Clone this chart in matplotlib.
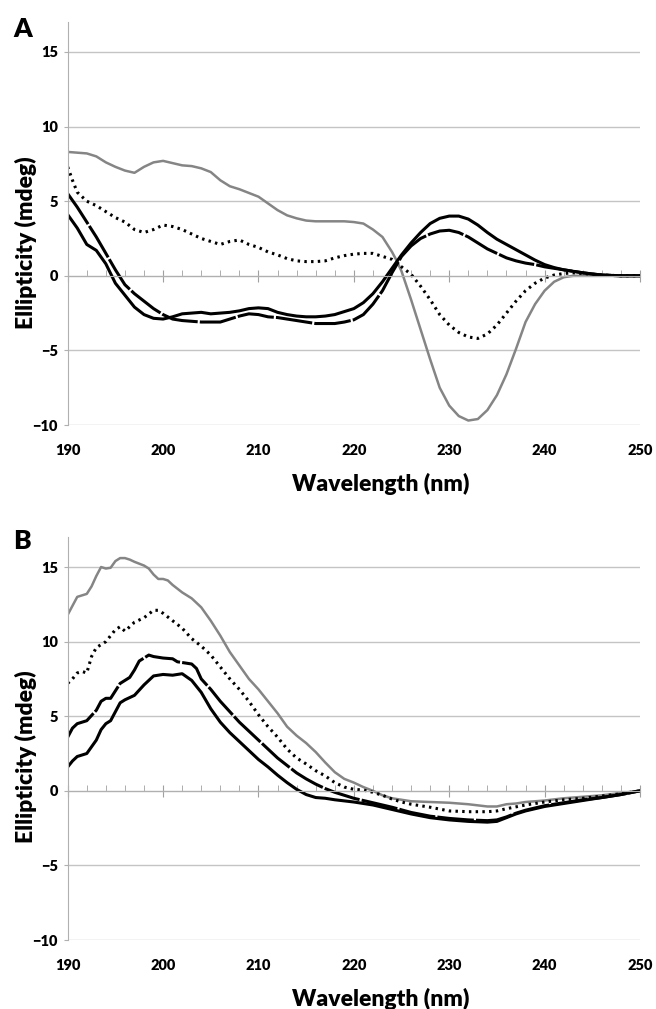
import numpy as np
import matplotlib.pyplot as plt
from matplotlib.ticker import MultipleLocator

plt.rcParams['font.family'] = ['Lato', 'DejaVu Sans']

# ---- Panel A ----
a_gray_x = [190, 191, 192, 193, 194, 195, 196, 197, 198, 199, 200, 201, 202, 203, 204, 205, 206, 207, 208, 209,
            210, 211, 212, 213, 214, 215, 216, 217, 218, 219, 220, 221, 222, 223, 224, 224.5, 225, 226, 227, 228,
            229, 230, 231, 232, 233, 234, 235, 236, 237, 238, 239, 240, 241, 242, 243, 244, 246, 248, 250]
a_gray_y = [8.3, 8.25, 8.2, 8.0, 7.6, 7.3, 7.05, 6.9, 7.3, 7.6, 7.7, 7.55, 7.4, 7.35, 7.2, 6.95, 6.4, 6.0, 5.8, 5.55,
            5.3, 4.85, 4.4, 4.05, 3.85, 3.7, 3.65, 3.65, 3.65, 3.65, 3.6, 3.5, 3.1, 2.6, 1.6, 1.0, 0.3, -1.6, -3.6, -5.6,
            -7.5, -8.7, -9.4, -9.7, -9.6, -9.0, -8.0, -6.6, -4.9, -3.1, -1.9, -1.0, -0.4, -0.1, 0.0, 0.0, 0.0, 0.0, 0.0]

a_dot_x = [190, 190.5, 191, 192, 193, 194, 195, 196, 197, 198, 199, 200, 201, 202, 203, 204, 205, 206, 207, 208,
           209, 210, 211, 212, 213, 214, 215, 216, 217, 218, 219, 220, 221, 222, 223, 224, 225, 226, 227, 228,
           229, 230, 231, 232, 233, 234, 235, 236, 237, 238, 239, 240, 241, 242, 243, 244, 246, 248, 250]
a_dot_y = [7.3, 6.4, 5.6, 5.0, 4.7, 4.3, 3.9, 3.6, 3.1, 2.9, 3.1, 3.4, 3.3, 3.1, 2.8, 2.5, 2.3, 2.1, 2.3, 2.4,
           2.1, 1.9, 1.6, 1.4, 1.15, 1.0, 0.95, 0.95, 1.0, 1.2, 1.35, 1.45, 1.5, 1.5, 1.3, 1.1, 0.6, 0.1, -0.7, -1.6,
           -2.6, -3.3, -3.8, -4.1, -4.2, -3.9, -3.3, -2.5, -1.7, -1.0, -0.5, -0.15, 0.05, 0.15, 0.2, 0.15, 0.05, 0.0, 0.0]

a_blk_x = [190, 191, 192, 193, 194, 195, 196, 197, 198, 199, 200, 201, 202, 203, 204, 205, 206, 207, 208, 209,
           210, 211, 212, 213, 214, 215, 216, 217, 218, 219, 220, 221, 222, 223, 224, 225, 226, 227, 228, 229,
           230, 231, 232, 233, 234, 235, 236, 237, 238, 239, 240, 241, 242, 243, 244, 245, 246, 248, 250]
a_solid_y = [4.1, 3.2, 2.1, 1.7, 0.8, -0.5, -1.3, -2.1, -2.6, -2.85, -2.9, -2.75, -2.55, -2.5, -2.45, -2.55, -2.5, -2.45, -2.35, -2.2,
             -2.15, -2.2, -2.45, -2.6, -2.7, -2.75, -2.75, -2.7, -2.6, -2.4, -2.2, -1.8, -1.2, -0.4, 0.5, 1.4, 2.2, 2.9, 3.5, 3.85,
             4.0, 4.0, 3.8, 3.4, 2.9, 2.45, 2.1, 1.75, 1.4, 1.05, 0.75, 0.55, 0.4, 0.3, 0.2, 0.12, 0.05, 0.0, 0.0]
a_dash_y = [5.5, 4.6, 3.6, 2.6, 1.5, 0.4, -0.6, -1.2, -1.7, -2.2, -2.6, -2.9, -3.0, -3.05, -3.1, -3.1, -3.1, -2.9, -2.7, -2.55,
            -2.6, -2.75, -2.8, -2.9, -3.0, -3.1, -3.2, -3.2, -3.2, -3.1, -2.95, -2.6, -1.9, -1.0, 0.2, 1.3, 2.0, 2.5, 2.8, 3.0,
            3.05, 2.9, 2.6, 2.2, 1.8, 1.5, 1.2, 1.0, 0.85, 0.75, 0.6, 0.5, 0.4, 0.3, 0.2, 0.12, 0.05, 0.0, 0.0]

# ---- Panel B ----
b_gray_x = [190, 190.5, 191, 192, 192.5, 193, 193.5, 194, 194.5, 195, 195.5, 196, 196.5, 197, 198, 198.5, 199, 199.5,
            200, 200.5, 201, 202, 203, 204, 205, 206, 207, 208, 209, 210, 211, 212, 213, 214, 215, 216, 217, 218,
            219, 220, 221, 222, 223, 224, 225, 226, 228, 230, 232, 234, 235, 236, 237, 238, 240, 242, 244, 246, 248, 250]
b_gray_y = [11.8, 12.4, 13.0, 13.2, 13.7, 14.4, 15.0, 14.9, 14.95, 15.4, 15.6, 15.6, 15.5, 15.35, 15.1, 14.9, 14.5, 14.2,
            14.2, 14.1, 13.8, 13.3, 12.9, 12.3, 11.4, 10.4, 9.3, 8.4, 7.5, 6.8, 6.0, 5.2, 4.3, 3.7, 3.2, 2.6, 1.9, 1.25,
            0.8, 0.55, 0.25, 0.0, -0.3, -0.5, -0.6, -0.7, -0.75, -0.8, -0.9, -1.05, -1.05, -0.9, -0.85, -0.75, -0.65, -0.5, -0.4, -0.3, -0.15, 0.0]

b_dot_x = [190, 190.5, 191, 191.5, 192, 192.5, 193, 194, 195, 195.5, 196, 197, 198, 199, 199.5, 200, 201, 202, 203,
           204, 205, 206, 207, 208, 209, 210, 211, 212, 213, 214, 215, 216, 217, 218, 219, 220, 221, 222, 223,
           224, 225, 226, 228, 230, 232, 234, 235, 236, 238, 240, 242, 244, 246, 248, 250]
b_dot_y = [7.2, 7.5, 7.9, 8.0, 7.9, 9.0, 9.6, 10.0, 10.8, 11.0, 10.7, 11.3, 11.6, 12.1, 12.1, 11.9, 11.4, 10.9, 10.2,
           9.7, 9.1, 8.3, 7.5, 6.8, 6.0, 5.1, 4.3, 3.6, 2.8, 2.2, 1.8, 1.35, 1.0, 0.55, 0.25, 0.1, 0.05, -0.1, -0.3,
           -0.55, -0.75, -0.9, -1.1, -1.35, -1.4, -1.4, -1.35, -1.2, -0.95, -0.75, -0.6, -0.5, -0.35, -0.2, 0.0]

b_dash_x = [190, 190.5, 191, 192, 193, 193.5, 194, 194.5, 195, 195.5, 196, 196.5, 197, 197.5, 198, 198.5, 199, 200,
            201, 201.5, 202, 203, 203.5, 204, 205, 206, 207, 208, 209, 210, 211, 212, 213, 214, 215, 216, 217, 218,
            219, 220, 222, 224, 226, 228, 230, 232, 234, 235, 236, 237, 238, 240, 242, 244, 246, 248, 250]
b_dash_y = [3.6, 4.2, 4.5, 4.7, 5.4, 6.0, 6.2, 6.2, 6.7, 7.2, 7.4, 7.6, 8.1, 8.7, 8.9, 9.1, 9.0, 8.9,
            8.85, 8.65, 8.6, 8.5, 8.2, 7.5, 6.8, 6.0, 5.3, 4.6, 4.0, 3.4, 2.8, 2.2, 1.7, 1.2, 0.8, 0.45, 0.15, -0.1,
            -0.3, -0.5, -0.8, -1.1, -1.45, -1.7, -1.85, -1.95, -2.0, -1.95, -1.75, -1.5, -1.3, -1.0, -0.8, -0.6, -0.45, -0.25, 0.0]

b_solid_x = [190, 190.5, 191, 192, 193, 193.5, 194, 194.5, 195, 195.5, 196, 197, 198, 198.5, 199, 200, 201, 202, 203,
             204, 205, 206, 207, 208, 209, 210, 211, 212, 213, 214, 215, 216, 217, 218, 220, 222, 224, 226, 228,
             230, 232, 234, 235, 236, 237, 238, 240, 242, 244, 246, 248, 250]
b_solid_y = [1.6, 2.0, 2.3, 2.5, 3.4, 4.1, 4.5, 4.7, 5.3, 5.9, 6.1, 6.4, 7.1, 7.4, 7.7, 7.8, 7.75, 7.85, 7.4,
             6.6, 5.5, 4.6, 3.9, 3.3, 2.7, 2.1, 1.6, 1.05, 0.55, 0.1, -0.25, -0.45, -0.5, -0.6, -0.75, -0.95, -1.25, -1.55, -1.8,
             -1.95, -2.05, -2.1, -2.05, -1.8, -1.55, -1.35, -1.05, -0.85, -0.65, -0.45, -0.25, 0.0]

x_ticks = [190, 200, 210, 220, 230, 240, 250]
y_ticks = [-10, -5, 0, 5, 10, 15]

GRAY = '#858585'
GRID = '#c4c4c4'
W, H = 656, 1009
DASH = (0, (12, 0.7))

fig = plt.figure(figsize=(W / 100, H / 100), dpi=100)


def style(ax):
    ax.set_xlim(190, 250)
    ax.set_ylim(-10, 17)
    ax.set_yticks(y_ticks)
    ax.yaxis.grid(True, color=GRID, lw=1)
    ax.set_axisbelow(True)
    for s in ['top', 'right']:
        ax.spines[s].set_visible(False)
    ax.spines['left'].set_color('#b0b0b0')
    ax.spines['bottom'].set_position(('data', 0))
    ax.spines['bottom'].set_color('#b0b0b0')
    ax.set_xticks(x_ticks)
    ax.xaxis.set_minor_locator(MultipleLocator(2))
    ax.tick_params(axis='x', which='major', direction='inout', length=8, color='#a0a0a0', labelbottom=False)
    ax.tick_params(axis='x', which='minor', direction='in', length=4, color='#a0a0a0')
    ax.tick_params(axis='y', length=3, color='#b0b0b0', pad=4)
    for t in ax.get_yticklabels():
        t.set_fontweight('heavy')
        t.set_fontsize(10.5)
    sec = ax.secondary_xaxis('bottom')
    sec.set_xticks(x_ticks)
    sec.spines['bottom'].set_visible(False)
    sec.tick_params(length=0, pad=14, labelsize=10.5)
    for t in sec.get_xticklabels():
        t.set_fontweight('heavy')


# panel A
axA = fig.add_axes([67.7 / W, 1 - 425 / H, 572.3 / W, 402.9 / H])
style(axA)
axA.plot(a_gray_x, a_gray_y, color=GRAY, lw=1.8)
axA.plot(a_dot_x, a_dot_y, color='black', lw=2.2, ls=(0, (0.8, 1.4)))
axA.plot(a_blk_x, a_solid_y, color='black', lw=2.2)
axA.plot(a_blk_x, a_dash_y, color='black', lw=2.2, ls=DASH)

# panel B
axB = fig.add_axes([67.7 / W, 1 - 940 / H, 572.3 / W, 402.8 / H])
style(axB)
axB.plot(b_gray_x, b_gray_y, color=GRAY, lw=1.8)
axB.plot(b_dot_x, b_dot_y, color='black', lw=2.2, ls=(0, (0.8, 1.4)))
axB.plot(b_dash_x, b_dash_y, color='black', lw=2.2, ls=DASH)
axB.plot(b_solid_x, b_solid_y, color='black', lw=2.2)

# labels
for yc, letter in [(29, 'A'), (541, 'B')]:
    fig.text(13 / W, 1 - yc / H, letter, fontsize=19, fontweight='heavy', va='center', ha='left')
for yc in [243, 757]:
    fig.text(26 / W, 1 - yc / H, 'Ellipticity (mdeg)', rotation=90, fontsize=16.5,
             fontweight='heavy', va='center', ha='center')
for yc in [484, 999]:
    fig.text(381 / W, 1 - yc / H, 'Wavelength (nm)', fontsize=16.5, fontweight='heavy',
             va='center', ha='center')

fig.savefig('out.png', dpi=100)
